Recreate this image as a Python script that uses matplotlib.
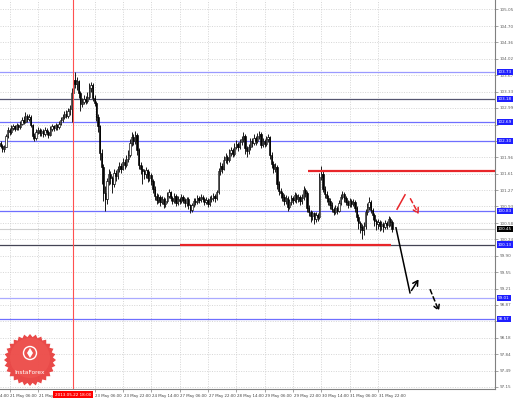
import matplotlib
matplotlib.use("Agg")
import matplotlib.pyplot as plt
import matplotlib.transforms as mtransforms
from matplotlib.patches import Polygon, Rectangle, Circle
import numpy as np

# ---------------- data ----------------
first_open = 102.26
close = [
 102.20,102.12,102.18,102.40,102.52,102.48,102.56,102.60,102.55,102.62,
 102.58,102.66,102.74,102.70,102.82,102.76,102.80,102.62,102.40,102.36,
 102.48,102.52,102.46,102.50,102.44,102.52,102.48,102.42,102.55,102.60,
 102.56,102.62,102.58,102.66,102.74,102.80,102.86,102.82,102.92,102.96,
 103.30,103.58,103.48,103.55,103.30,103.08,103.12,103.18,103.14,103.22,
 103.40,103.46,103.20,103.10,102.80,102.60,102.05,101.75,101.20,101.08,
 101.45,101.60,101.52,101.40,101.62,101.56,101.70,101.78,101.72,101.86,
 101.80,101.92,102.00,102.25,102.38,102.30,102.42,102.10,101.80,101.72,
 101.66,101.60,101.68,101.52,101.58,101.46,101.30,101.15,101.06,101.12,
 101.02,101.08,100.98,101.05,101.15,101.22,101.10,101.05,101.14,101.00,
 101.08,101.04,101.12,101.06,101.00,101.08,100.95,100.86,100.95,101.05,
 101.02,101.10,101.06,101.12,101.08,101.02,101.06,100.98,101.08,101.10,
 101.14,101.10,101.22,101.66,101.78,101.72,101.90,101.96,101.90,102.04,
 102.10,102.02,102.18,102.24,102.16,102.28,102.34,102.40,102.14,102.08,
 102.16,102.30,102.26,102.36,102.30,102.40,102.44,102.22,102.30,102.24,
 102.34,102.38,102.00,101.82,101.70,101.76,101.40,101.25,101.20,101.12,
 101.04,101.10,100.92,101.02,101.10,101.06,101.16,101.08,101.12,101.04,
 101.10,101.28,101.20,100.90,100.80,100.72,100.78,100.66,100.74,100.70,
 101.55,101.60,101.30,101.18,101.10,101.04,100.96,100.88,100.82,100.90,
 100.84,101.00,101.12,101.18,101.10,101.02,100.96,101.04,100.98,101.02,
 100.90,100.70,100.58,100.50,100.44,100.52,100.80,100.92,101.02,100.86,
 100.74,100.62,100.55,100.60,100.52,100.56,100.50,100.58,100.54,100.66,
 100.60,100.45]
high = [
 102.30,102.24,102.22,102.44,102.58,102.56,102.62,102.66,102.64,102.68,
 102.66,102.72,102.80,102.82,102.90,102.86,102.86,102.84,102.66,102.46,
 102.54,102.58,102.56,102.54,102.54,102.58,102.56,102.52,102.60,102.66,
 102.64,102.68,102.66,102.72,102.80,102.86,102.92,102.94,102.98,103.04,
 103.40,103.66,103.73,103.64,103.58,103.34,103.20,103.26,103.24,103.32,
 103.50,103.54,103.50,103.26,103.14,102.86,102.64,102.12,101.82,101.36,
 101.52,101.70,101.66,101.56,101.70,101.68,101.78,101.86,101.84,101.94,
 101.92,102.00,102.10,102.34,102.48,102.44,102.50,102.46,102.14,101.86,
 101.80,101.72,101.76,101.72,101.66,101.62,101.50,101.36,101.20,101.18,
 101.16,101.14,101.12,101.10,101.22,101.30,101.26,101.14,101.20,101.18,
 101.14,101.12,101.18,101.16,101.10,101.12,101.12,100.98,101.00,101.10,
 101.10,101.16,101.14,101.18,101.16,101.12,101.12,101.10,101.14,101.16,
 101.20,101.18,101.28,101.74,101.86,101.84,101.98,102.04,102.00,102.12,
 102.18,102.14,102.26,102.32,102.28,102.34,102.40,102.48,102.44,102.20,
 102.24,102.36,102.36,102.44,102.40,102.46,102.50,102.48,102.36,102.34,
 102.40,102.44,102.40,102.06,101.88,101.84,101.80,101.46,101.32,101.26,
 101.18,101.16,101.14,101.08,101.16,101.14,101.22,101.20,101.18,101.16,
 101.18,101.36,101.32,101.24,100.96,100.86,100.84,100.82,100.80,100.78,
 101.62,101.77,101.66,101.36,101.24,101.16,101.10,101.02,100.92,100.96,
 100.94,101.06,101.18,101.26,101.22,101.14,101.06,101.10,101.08,101.08,
 101.06,100.94,100.76,100.62,100.56,100.60,100.88,101.00,101.12,101.06,
 100.90,100.78,100.66,100.66,100.64,100.62,100.60,100.64,100.62,100.72,
 100.70,100.64]
low = [
 102.14,102.06,102.06,102.16,102.36,102.42,102.44,102.52,102.50,102.52,
 102.52,102.55,102.62,102.66,102.68,102.70,102.72,102.58,102.34,102.30,
 102.32,102.44,102.40,102.40,102.38,102.40,102.42,102.36,102.40,102.50,
 102.50,102.52,102.52,102.55,102.62,102.70,102.76,102.78,102.78,102.84,
 102.70,103.24,103.40,103.36,103.20,102.92,103.00,103.06,103.06,103.10,
 103.18,103.32,103.14,103.02,102.72,102.48,101.90,101.40,101.05,100.84,
 100.98,101.38,101.40,101.20,101.34,101.46,101.50,101.64,101.62,101.68,
 101.72,101.76,101.86,101.96,102.20,102.22,102.24,102.00,101.72,101.60,
 101.40,101.50,101.52,101.44,101.46,101.38,101.20,101.06,100.98,101.00,
 100.94,100.98,100.90,100.92,101.00,101.10,101.04,100.98,101.00,100.94,
 100.96,100.98,101.00,101.00,100.92,100.94,100.88,100.78,100.82,100.92,
 100.96,100.98,101.00,101.02,101.02,100.96,100.98,100.92,100.94,101.02,
 101.04,101.02,101.06,101.18,101.58,101.62,101.68,101.84,101.82,101.86,
 101.98,101.96,101.98,102.12,102.08,102.12,102.22,102.28,102.02,101.96,
 102.02,102.10,102.18,102.22,102.22,102.26,102.34,102.14,102.16,102.16,
 102.20,102.28,101.92,101.74,101.62,101.64,101.30,101.16,101.10,101.04,
 100.96,100.98,100.84,100.88,100.96,100.98,101.02,101.00,101.02,100.96,
 100.98,101.06,101.12,100.80,100.72,100.60,100.64,100.56,100.60,100.62,
 100.66,101.48,101.22,101.10,101.02,100.96,100.88,100.80,100.74,100.76,
 100.76,100.80,100.96,101.08,101.02,100.96,100.90,100.92,100.92,100.94,
 100.82,100.62,100.46,100.38,100.24,100.32,100.46,100.74,100.86,100.78,
 100.64,100.52,100.44,100.46,100.42,100.44,100.40,100.46,100.46,100.50,
 100.52,100.40]

# price axis tick labels (right side)
ytick_values = [97.15,97.49,97.84,98.18,98.52,98.87,99.21,99.55,99.90,100.24,
                100.58,100.93,101.27,101.61,101.96,102.30,102.64,102.99,103.33,
                103.67,104.02,104.36,104.70,105.05]
# time axis labels (bar index -> label)
xtick_index = [-11,5,21,53,69,85,101,117,133,149,165,181,197,213]
xtick_labels = ["20 May 14:00","21 May 06:00","21 May 22:00","23 May 06:00",
                "23 May 22:00","24 May 14:00","27 May 06:00","27 May 22:00",
                "28 May 14:00","29 May 06:00","29 May 22:00","30 May 14:00",
                "31 May 06:00","31 May 22:00"]
# horizontal levels
levels = [103.73,103.18,102.69,102.30,100.83,100.13,99.01,98.57]
level_labels = ["103.73","103.18","102.69","102.30","100.83","100.13","99.01","98.57"]
level_colors = ["#9a9aff","#555570","#6f6fff","#6f6fff","#6f6fff","#444455","#aaaaff","#6f6fff"]
current_price = 100.45
# red resistance / support segments (start index, end index, price)
red_segments = [(173.5, 279.0, 101.67), (101.0, 220.5, 100.12)]
# vertical marker
vline_index = 41
vline_label = "2013.05.22 18:00"
# forecast arrows (bar index, price)
black_path_x = [223.2, 231.1, 236.8]
black_path_y = [100.48, 99.12, 99.45]
black_dash_x = [241.9, 248.1]
black_dash_y = [99.24, 98.68]
red_path_x = [223.8, 228.3]
red_path_y = [100.87, 101.17]
red_dash_x = [230.6, 236.8]
red_dash_y = [101.14, 100.71]

# ---------------- figure ----------------
W, H = 518, 398
fig = plt.figure(figsize=(W/100, H/100), dpi=100)
fig.patch.set_facecolor("white")
ax = fig.add_axes([0, 9/H, 495/W, 389/H])
ax.set_facecolor("white")

opens = [first_open] + close[:-1]
idx = np.arange(len(close))
ax.vlines(idx, low, high, color="#1a1a1a", lw=0.7, zorder=3)
for i, (o, c) in enumerate(zip(opens, close)):
    bot = min(o, c)
    h = max(abs(c - o), 0.012)
    if c >= o:
        ax.add_patch(Rectangle((i - 0.35, bot), 0.7, h, facecolor="white",
                               edgecolor="black", lw=0.45, zorder=4))
    else:
        ax.add_patch(Rectangle((i - 0.35, bot), 0.7, h, facecolor="black",
                               edgecolor="black", lw=0.45, zorder=4))

ax.set_xlim(-0.37, 279.1)
ax.set_ylim(97.108, 105.245)

# grid
for v in ytick_values:
    ax.axhline(v, color="#c8c8c8", lw=0.5, ls=(0, (1.5, 2)), zorder=0)
for xi in xtick_index[1:]:
    ax.axvline(xi, color="#c8c8c8", lw=0.5, ls=(0, (1.5, 2)), zorder=0)

# levels
for v, col in zip(levels, level_colors):
    ax.axhline(v, color=col, lw=0.9, zorder=2)
ax.axhline(current_price, color="#cfcfcf", lw=0.8, zorder=1)
for x0, x1, v in red_segments:
    ax.plot([x0, x1], [v, v], color="#e8262a", lw=1.6, solid_capstyle="butt", zorder=5)

ax.axvline(vline_index, color="#ff5050", lw=0.8, zorder=5)

# arrows
ax.plot(black_path_x[:2], black_path_y[:2], color="black", lw=1.1, zorder=6)
ax.annotate("", xy=(black_path_x[2], black_path_y[2]), xytext=(black_path_x[1], black_path_y[1]),
            arrowprops=dict(arrowstyle="->,head_length=0.35,head_width=0.2", color="black", lw=1.1))
ax.annotate("", xy=(black_dash_x[1], black_dash_y[1]), xytext=(black_dash_x[0], black_dash_y[0]),
            arrowprops=dict(arrowstyle="->,head_length=0.35,head_width=0.2", color="black", lw=1.1,
                            linestyle=(0, (3, 2))))
ax.plot(red_path_x, red_path_y, color="#e8262a", lw=1.1, zorder=6)
ax.annotate("", xy=(red_dash_x[1], red_dash_y[1]), xytext=(red_dash_x[0], red_dash_y[0]),
            arrowprops=dict(arrowstyle="->,head_length=0.35,head_width=0.2", color="#e8262a", lw=1.1,
                            linestyle=(0, (3, 2))))

# spines / ticks
for s in ["top", "left"]:
    ax.spines[s].set_visible(False)
for s in ["right", "bottom"]:
    ax.spines[s].set_color("#808080")
    ax.spines[s].set_linewidth(0.8)
ax.yaxis.tick_right()
ax.set_yticks(ytick_values)
# tick labels hidden behind a highlighted level label are left blank
shown = []
for v in ytick_values:
    hidden = any(abs(v - L) < 0.06 for L in levels + [current_price])
    shown.append("" if hidden else f"{v:.2f}")
ax.set_yticklabels(shown)
ax.tick_params(axis="y", length=2, width=0.5, colors="#808080", labelsize=3, pad=1.5,
               labelcolor="#606060")
ax.set_xticks(xtick_index[1:])
ax.set_xticklabels([])
ax.tick_params(axis="x", length=2, width=0.5, colors="#808080")

bt = mtransforms.blended_transform_factory(ax.transData, ax.transAxes)
for xi, lab in zip(xtick_index, xtick_labels):
    ax.text(xi + 0.4, -0.012, lab, transform=bt, ha="left", va="top", fontsize=2.8,
            color="#404040", clip_on=False)
ax.text(vline_index, -0.010, vline_label, transform=bt, ha="center", va="top", fontsize=3,
        color="white", clip_on=False, zorder=10,
        bbox=dict(boxstyle="square,pad=0.45", facecolor="#ff0000", edgecolor="none"))

rt = mtransforms.blended_transform_factory(ax.transAxes, ax.transData)
for v, lab in zip(levels, level_labels):
    ax.text(1.006, v, lab, transform=rt, ha="left", va="center", fontsize=3, color="white",
            clip_on=False, zorder=10,
            bbox=dict(boxstyle="square,pad=0.25", facecolor="#1f1fff", edgecolor="none"))
ax.text(1.006, current_price, f"{current_price:.2f}", transform=rt, ha="left", va="center",
        fontsize=3, color="white", clip_on=False, zorder=10,
        bbox=dict(boxstyle="square,pad=0.25", facecolor="black", edgecolor="none"))

# logo (decorative badge)
n = 28
ang = np.linspace(0, 2*np.pi, 2*n, endpoint=False)
rad = np.where(np.arange(2*n) % 2 == 0, 26, 23)
cx, cy = 30, 360
star = np.column_stack([cx + rad*np.cos(ang), cy + rad*np.sin(ang)])
ax_logo = fig.add_axes([0, 0, 1, 1])
ax_logo.set_xlim(0, W)
ax_logo.set_ylim(H, 0)
ax_logo.axis("off")
ax_logo.patch.set_alpha(0)
ax_logo.add_patch(Polygon(star, closed=True, facecolor="#e8403f", edgecolor="none", alpha=0.95))
ax_logo.add_patch(Circle((cx, cy - 2), 20, facecolor="#f05a55", edgecolor="none", alpha=0.6))
ax_logo.add_patch(Circle((cx, cy - 7), 6.5, facecolor="none", edgecolor="white", lw=1.0))
emb = [(cx, cy - 12), (cx + 3, cy - 7), (cx, cy - 2), (cx - 3, cy - 7)]
ax_logo.add_patch(Polygon(emb, closed=True, facecolor="white", edgecolor="none"))
ax_logo.text(cx, cy + 12, "InstaForex", ha="center", va="center", fontsize=4.2, color="white")

fig.savefig("out.png", dpi=100, facecolor="white")
